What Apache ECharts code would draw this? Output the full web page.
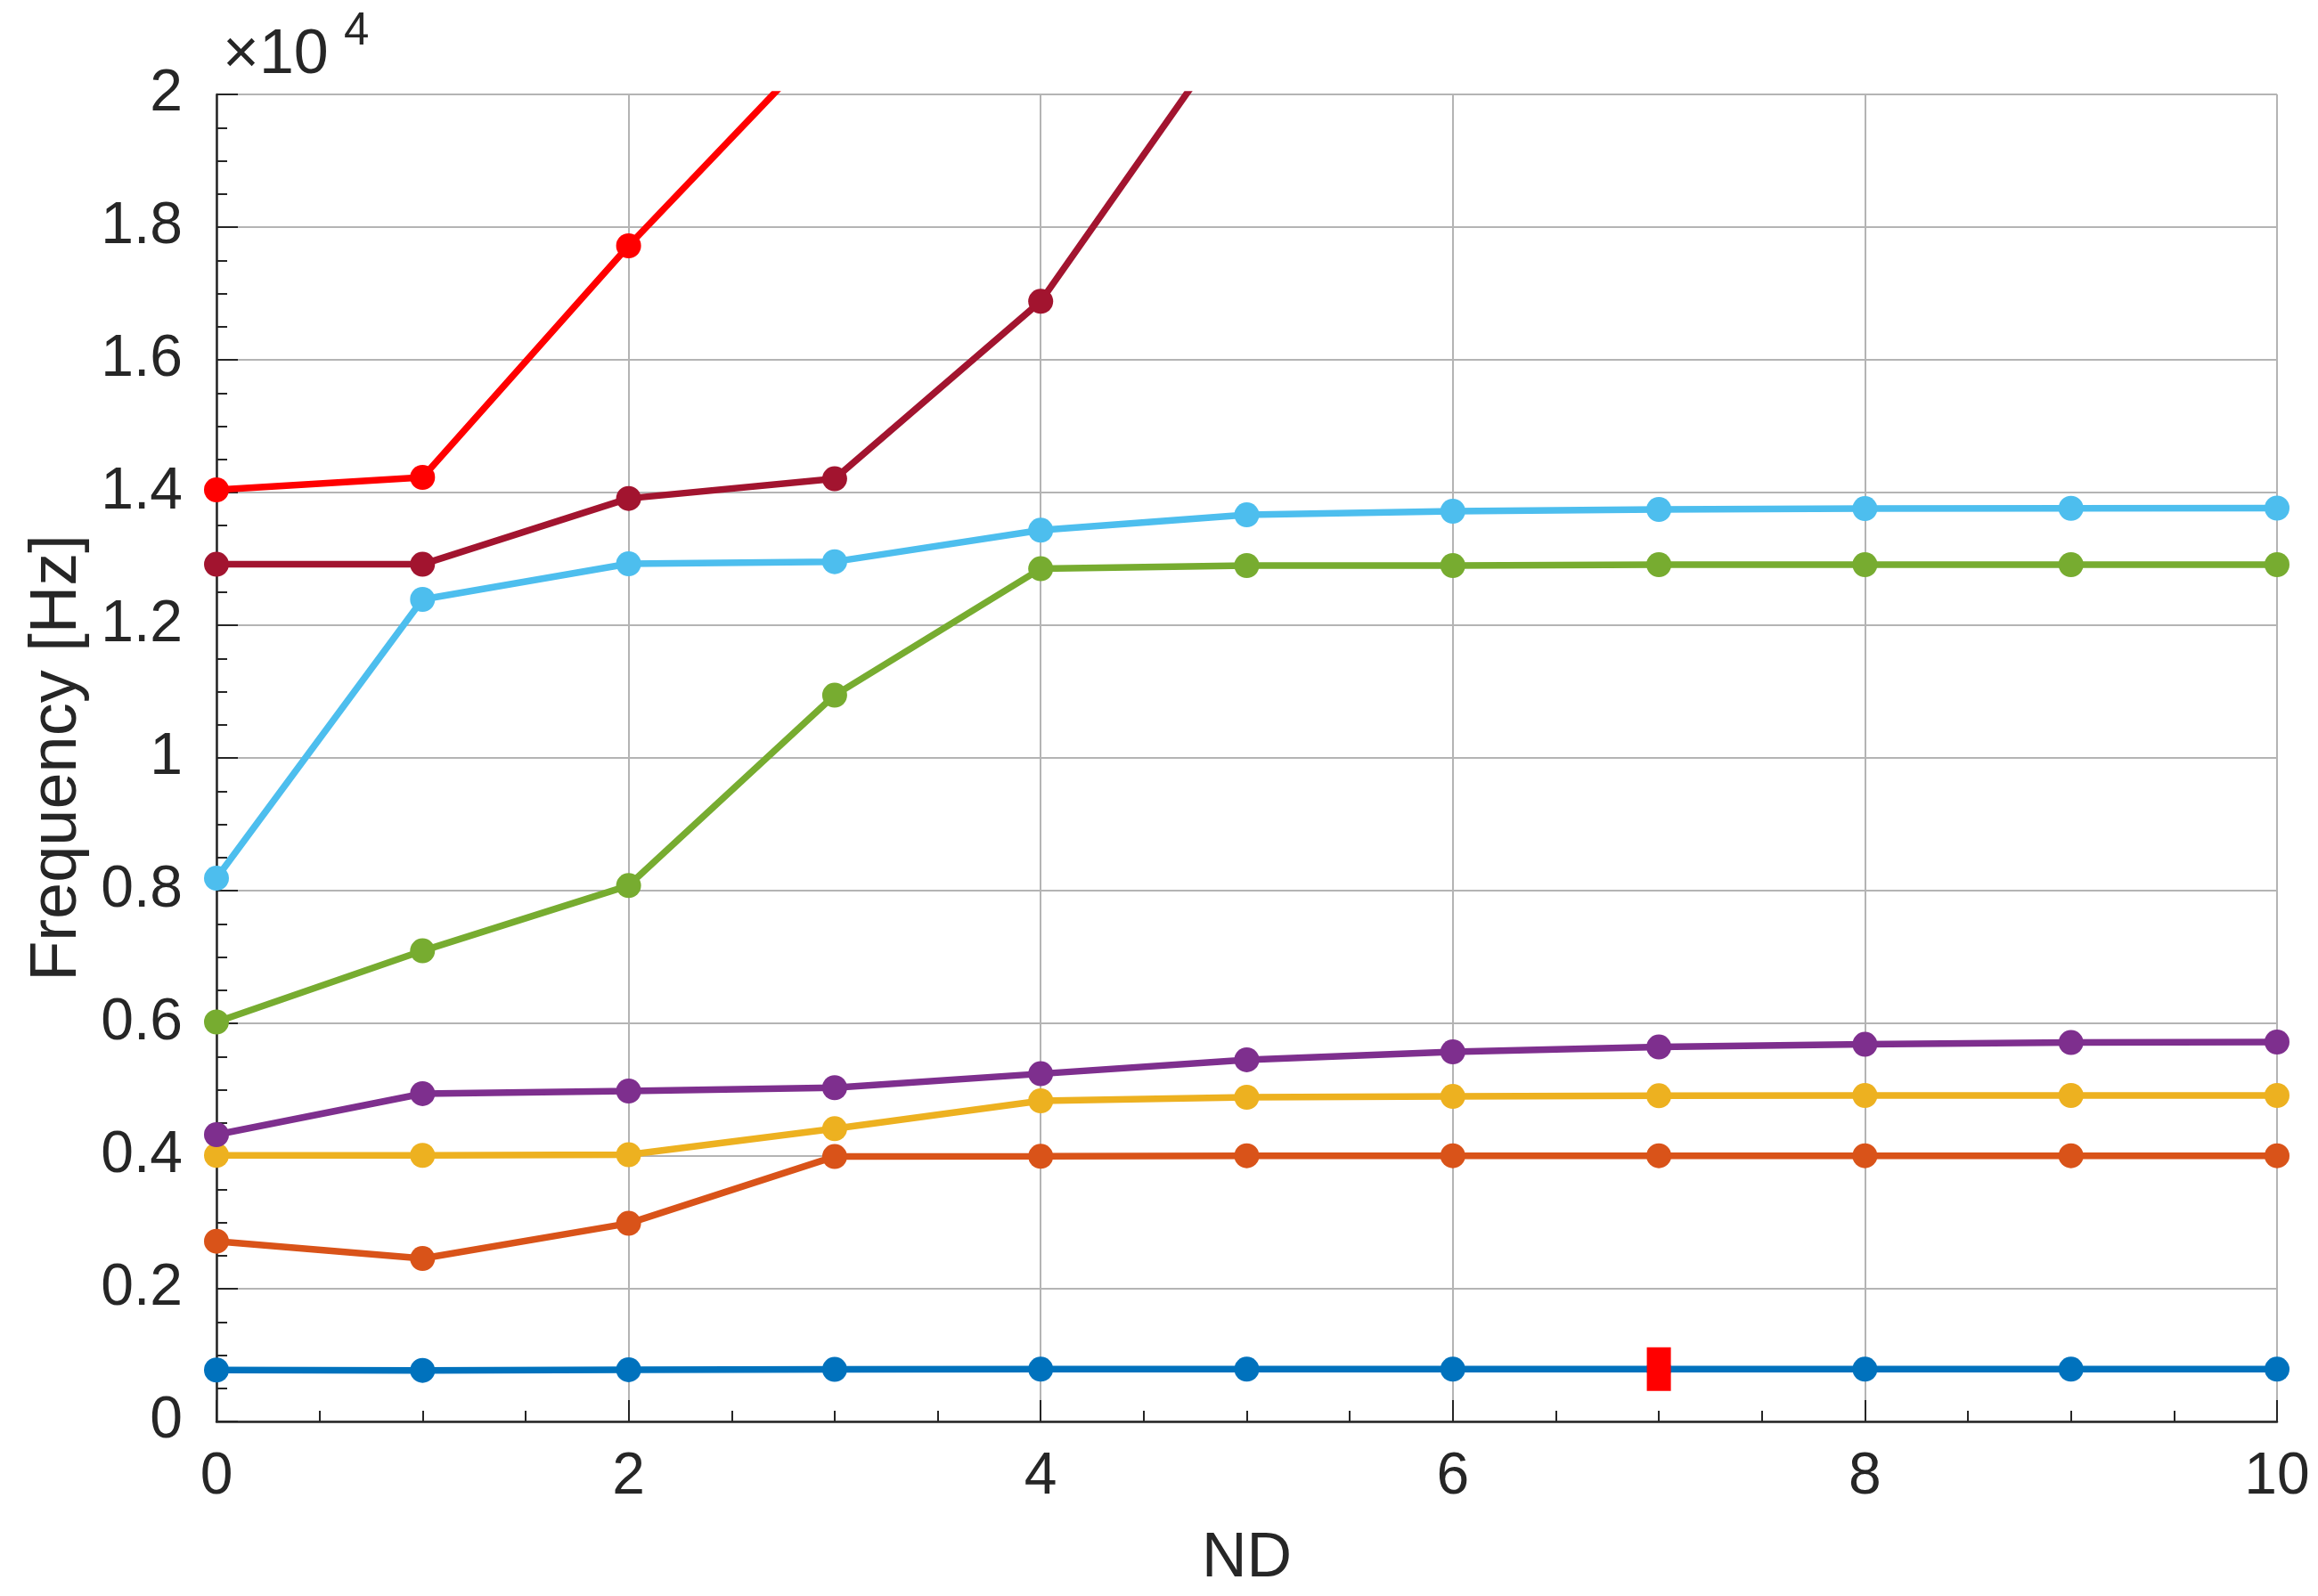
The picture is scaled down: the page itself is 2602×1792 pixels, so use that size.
<!DOCTYPE html>
<html>
<head>
<meta charset="utf-8">
<title>Frequency vs ND</title>
<script src="https://cdn.jsdelivr.net/npm/echarts@6/dist/echarts.min.js"></script>
<style>
  html, body { margin: 0; padding: 0; background: #fff; }
  #chart { width: 2602px; height: 1792px; }
</style>
</head>
<body>
<div id="chart"></div>
<script>
// ND values (x axis)
const nd = [0, 1, 2, 3, 4, 5, 6, 7, 8, 9, 10];

// frequencies in Hz, one array per mode
const mode1 = [775, 770, 780, 784, 787, 788, 788, 788, 788, 788, 788];
const mode2 = [2716, 2456, 2985, 3992, 3995, 4005, 4005, 4005, 4005, 4005, 4005];
const mode3 = [4010, 4010, 4020, 4412, 4832, 4886, 4899, 4909, 4913, 4913, 4913];
const mode4 = [4322, 4940, 4980, 5030, 5240, 5450, 5570, 5643, 5683, 5710, 5718];
const mode5 = [6020, 7093, 8076, 10945, 12851, 12899, 12899, 12913, 12913, 12913, 12913];
const mode6 = [8187, 12389, 12926, 12958, 13432, 13664, 13718, 13745, 13758, 13762, 13765];
const mode7 = [12918, 12918, 13911, 14207, 16882, 21300];   // leaves the plot after ND=4
const mode8 = [14040, 14228, 17718, 20970];                 // leaves the plot after ND=2

// highlighted point
const markND = [7];
const markFreq = [788];

// y tick values, shown in units of 1e4
const yTicks = [0, 2000, 4000, 6000, 8000, 10000, 12000, 14000, 16000, 18000, 20000];

const modes = [mode1, mode2, mode3, mode4, mode5, mode6, mode7, mode8];
const colors = ['#0072BD', '#D95319', '#EDB120', '#7E2F8E', '#77AC30', '#4DBEEE', '#A2142F', '#FF0000'];

const textColor = '#262626';
const font = '"Liberation Sans", Arial, Helvetica, sans-serif';

const chart = echarts.init(document.getElementById('chart'), null, { renderer: 'canvas' });

const lineSeries = modes.map((vals, k) => ({
  type: 'line',
  data: vals.map((v, i) => [nd[i], v]),
  color: colors[k],
  lineStyle: { width: 7.5, color: colors[k] },
  itemStyle: { color: colors[k], opacity: 1 },
  symbol: 'circle',
  symbolSize: 28,
  showAllSymbol: true,
  clip: true,
  z: 3 + k
}));

chart.setOption({
  backgroundColor: '#fff',
  animation: false,
  grid: { left: 243, right: 46, top: 106, bottom: 196, containLabel: false },
  xAxis: {
    type: 'value',
    min: 0,
    max: 10,
    interval: 2,
    name: 'ND',
    nameLocation: 'middle',
    nameGap: 120,
    nameTextStyle: { color: textColor, fontSize: 70, fontFamily: font },
    axisLine: { show: true, onZero: false, lineStyle: { color: textColor, width: 2.5 } },
    axisTick: { show: true, inside: true, length: 24, lineStyle: { color: textColor, width: 2 } },
    minorTick: { show: true, splitNumber: 4, length: 12, lineStyle: { color: textColor, width: 2 } },
    axisLabel: { color: textColor, fontSize: 66, fontFamily: font, margin: 30 },
    splitLine: { show: true, lineStyle: { color: '#b4b4b4', width: 2 } }
  },
  yAxis: {
    type: 'value',
    min: yTicks[0],
    max: yTicks[yTicks.length - 1],
    interval: yTicks[1] - yTicks[0],
    name: 'Frequency [Hz]',
    nameLocation: 'middle',
    nameGap: 141,
    nameTextStyle: { color: textColor, fontSize: 74, fontFamily: font },
    axisLine: { show: true, onZero: false, lineStyle: { color: textColor, width: 2.5 } },
    axisTick: { show: true, inside: true, length: 24, lineStyle: { color: textColor, width: 2 } },
    minorTick: { show: true, splitNumber: 4, length: 12, lineStyle: { color: textColor, width: 2 } },
    axisLabel: {
      color: textColor, fontSize: 66, fontFamily: font, margin: 38,
      formatter: v => String(+(v / 10000).toFixed(1))
    },
    splitLine: { show: true, lineStyle: { color: '#b4b4b4', width: 2 } }
  },
  graphic: [
    {
      type: 'text', left: 250, top: 28, silent: true,
      style: { text: '×10', fill: textColor, font: '70px ' + font }
    },
    {
      type: 'text', left: 386, top: 10, silent: true,
      style: { text: '4', fill: textColor, font: '51px ' + font }
    }
  ],
  series: [
    ...lineSeries,
    {
      type: 'scatter',
      data: markND.map((x, i) => [x, markFreq[i]]),
      symbol: 'rect',
      symbolSize: [27, 49],
      itemStyle: { color: '#FF0000', opacity: 1 },
      z: 20
    }
  ]
});
</script>
</body>
</html>
